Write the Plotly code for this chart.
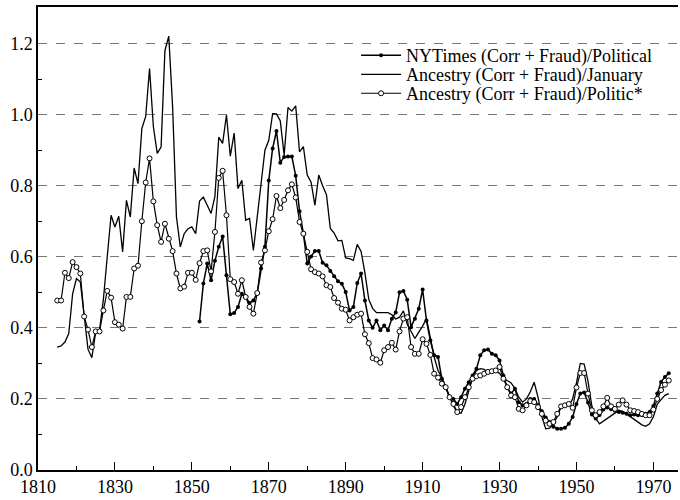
import plotly.graph_objects as go

# ---------------- data ----------------
nyt_years = list(range(1852, 1975))
nyt_vals = [
    0.418, 0.525, 0.581, 0.534, 0.589, 0.628, 0.657, 0.548, 0.438, 0.442,  # 1852-1861
    0.459, 0.496, 0.487, 0.470, 0.477, 0.498, 0.567, 0.628, 0.815, 0.905,  # 1862-1871
    0.954, 0.865, 0.881, 0.882, 0.882, 0.828, 0.728, 0.665, 0.581, 0.601,  # 1872-1881
    0.616, 0.616, 0.583, 0.576, 0.560, 0.545, 0.531, 0.524, 0.501, 0.449,  # 1882-1891
    0.459, 0.526, 0.553, 0.477, 0.421, 0.400, 0.421, 0.393, 0.407, 0.393,  # 1892-1901
    0.426, 0.443, 0.500, 0.504, 0.479, 0.402, 0.426, 0.454, 0.508, 0.421,  # 1902-1911
    0.365, 0.323, 0.318, 0.257, 0.233, 0.205, 0.200, 0.186, 0.205, 0.229,  # 1912-1921
    0.247, 0.266, 0.285, 0.323, 0.337, 0.339, 0.327, 0.323, 0.308, 0.266,  # 1922-1931
    0.233, 0.215, 0.229, 0.191, 0.182, 0.186, 0.200, 0.200, 0.182, 0.165,  # 1932-1941
    0.148, 0.135, 0.122, 0.116, 0.116, 0.119, 0.130, 0.149, 0.186, 0.215,  # 1942-1951
    0.218, 0.190, 0.156, 0.145, 0.155, 0.170, 0.176, 0.171, 0.167, 0.163,  # 1952-1961
    0.161, 0.158, 0.154, 0.156, 0.154, 0.155, 0.158, 0.163, 0.180, 0.215,  # 1962-1971
    0.248, 0.262, 0.272,                                                   # 1972-1974
]

jan_years = list(range(1815, 1975))
jan_vals = [
    0.346, 0.349, 0.360, 0.384, 0.496, 0.539, 0.529, 0.430, 0.340, 0.316,  # 1815-1824
    0.388, 0.393, 0.480, 0.600, 0.717, 0.684, 0.714, 0.614, 0.759, 0.712,  # 1825-1834
    0.850, 0.806, 0.961, 0.995, 1.130, 0.966, 0.891, 0.909, 1.180, 1.221,  # 1835-1844
    1.022, 0.712, 0.628, 0.665, 0.679, 0.684, 0.665, 0.757, 0.768, 0.745,  # 1845-1854
    0.722, 0.770, 0.937, 0.919, 0.999, 0.883, 0.948, 0.792, 0.815, 0.703,  # 1855-1864
    0.708, 0.618, 0.712, 0.820, 0.900, 0.928, 1.003, 1.002, 0.982, 0.886,  # 1865-1874
    1.020, 1.010, 1.025, 0.895, 0.910, 0.830, 0.810, 0.745, 0.830, 0.800,  # 1875-1884
    0.775, 0.680, 0.667, 0.645, 0.646, 0.597, 0.595, 0.590, 0.635, 0.615,  # 1885-1894
    0.555, 0.480, 0.455, 0.443, 0.443, 0.443, 0.443, 0.437, 0.425, 0.430,  # 1895-1904
    0.448, 0.410, 0.390, 0.370, 0.388, 0.405, 0.426, 0.370, 0.318, 0.280,  # 1905-1914
    0.260, 0.235, 0.205, 0.180, 0.162, 0.160, 0.185, 0.225, 0.260, 0.280,  # 1915-1924
    0.285, 0.283, 0.276, 0.276, 0.279, 0.272, 0.257, 0.252, 0.245, 0.230,  # 1925-1934
    0.205, 0.191, 0.200, 0.220, 0.247, 0.205, 0.150, 0.116, 0.118, 0.130,  # 1935-1944
    0.150, 0.177, 0.186, 0.180, 0.200, 0.245, 0.300, 0.298, 0.250, 0.180,  # 1945-1954
    0.145, 0.130, 0.137, 0.145, 0.152, 0.160, 0.168, 0.165, 0.158, 0.150,  # 1955-1964
    0.142, 0.135, 0.127, 0.123, 0.130, 0.150, 0.185, 0.198, 0.210, 0.215,  # 1965-1974
]

pol_years = list(range(1815, 1975))
pol_vals = [
    0.477, 0.477, 0.555, 0.540, 0.585, 0.571, 0.553, 0.432, 0.395, 0.346,  # 1815-1824
    0.390, 0.390, 0.449, 0.504, 0.485, 0.416, 0.409, 0.398, 0.487, 0.487,  # 1825-1834
    0.567, 0.575, 0.700, 0.809, 0.877, 0.756, 0.689, 0.642, 0.693, 0.651,  # 1835-1844
    0.616, 0.553, 0.511, 0.516, 0.555, 0.555, 0.535, 0.582, 0.616, 0.618,  # 1845-1854
    0.559, 0.670, 0.822, 0.842, 0.717, 0.537, 0.529, 0.496, 0.534, 0.487,  # 1855-1864
    0.459, 0.440, 0.498, 0.584, 0.618, 0.672, 0.706, 0.771, 0.737, 0.760,  # 1865-1874
    0.787, 0.804, 0.767, 0.698, 0.665, 0.614, 0.565, 0.557, 0.553, 0.545,  # 1875-1884
    0.520, 0.515, 0.484, 0.471, 0.454, 0.451, 0.421, 0.430, 0.437, 0.440,  # 1885-1894
    0.382, 0.357, 0.315, 0.311, 0.302, 0.337, 0.346, 0.358, 0.339, 0.390,  # 1895-1904
    0.426, 0.430, 0.346, 0.327, 0.327, 0.368, 0.355, 0.324, 0.271, 0.260,  # 1905-1914
    0.243, 0.233, 0.205, 0.186, 0.163, 0.177, 0.205, 0.233, 0.257, 0.264,  # 1915-1924
    0.266, 0.271, 0.276, 0.278, 0.280, 0.290, 0.257, 0.233, 0.210, 0.205,  # 1925-1934
    0.172, 0.168, 0.182, 0.194, 0.191, 0.177, 0.158, 0.139, 0.130, 0.135,  # 1935-1944
    0.158, 0.179, 0.182, 0.186, 0.175, 0.232, 0.273, 0.273, 0.215, 0.168,  # 1945-1954
    0.154, 0.163, 0.179, 0.203, 0.179, 0.172, 0.184, 0.196, 0.184, 0.168,  # 1955-1964
    0.166, 0.163, 0.158, 0.154, 0.154, 0.170, 0.200, 0.225, 0.240, 0.252,  # 1965-1974
]

series_names = [
    "NYTimes (Corr + Fraud)/Political",
    "Ancestry (Corr + Fraud)/January",
    "Ancestry (Corr + Fraud)/Politic*",
]
x_ticks = [1810, 1830, 1850, 1870, 1890, 1910, 1930, 1950, 1970]
x_minor = [1820, 1840, 1860, 1880, 1900, 1920, 1940, 1960]
y_ticks = [0.0, 0.2, 0.4, 0.6, 0.8, 1.0, 1.2]
y_minor = [0.1, 0.3, 0.5, 0.7, 0.9, 1.1]

FONT = "Liberation Serif"

fig = go.Figure()
fig.add_trace(go.Scatter(
    x=nyt_years, y=nyt_vals, name=series_names[0], mode="lines+markers",
    line=dict(color="black", width=1.5),
    marker=dict(symbol="circle", size=4, color="black"),
    legend="legend",
))
fig.add_trace(go.Scatter(
    x=jan_years, y=jan_vals, name=series_names[1], mode="lines",
    line=dict(color="black", width=1.3),
    legend="legend2",
))
fig.add_trace(go.Scatter(
    x=pol_years, y=pol_vals, name=series_names[2], mode="lines+markers",
    line=dict(color="black", width=1.2),
    marker=dict(symbol="circle", size=5, color="white",
                line=dict(color="black", width=1)),
    legend="legend3",
))

def leg(ypos):
    return dict(
        x=0.497, y=ypos, xanchor="left", yanchor="top",
        bgcolor="rgba(0,0,0,0)", borderwidth=0,
        font=dict(family=FONT, size=18, color="black"),
        itemwidth=40,
    )

fig.update_layout(
    width=680, height=500,
    margin=dict(l=38, r=2, t=7, b=30),
    paper_bgcolor="white", plot_bgcolor="white",
    font=dict(family=FONT, size=18, color="black"),
    showlegend=True,
    legend=leg(0.935),
    legend2=leg(0.894),
    legend3=leg(0.853),
    xaxis=dict(
        range=[1810, 1976.4], tickmode="array", tickvals=x_ticks,
        ticktext=[str(v) for v in x_ticks],
        ticks="inside", ticklen=8, tickcolor="black", tickwidth=1,
        minor=dict(ticks="inside", ticklen=4, tickcolor="black",
                   tickmode="array", tickvals=x_minor),
        showline=True, linecolor="black", linewidth=1.5, mirror=True,
        showgrid=False, zeroline=False, automargin=False,
        tickfont=dict(family=FONT, size=18),
    ),
    yaxis=dict(
        range=[0, 1.303], tickmode="array", tickvals=y_ticks,
        ticktext=[f"{v:.1f}" for v in y_ticks],
        ticks="",
        minor=dict(ticks="inside", ticklen=4, tickcolor="black",
                   tickmode="array", tickvals=y_minor),
        showline=True, linecolor="black", linewidth=1.5, mirror=False,
        showgrid=True, gridcolor="#777777", griddash="dash", gridwidth=1,
        zeroline=False, automargin=False,
        tickfont=dict(family=FONT, size=18),
    ),
)

fig.write_html(
    "out.html",
    config={"displayModeBar": False},
    post_script="document.body.style.margin='0';document.body.style.overflow='hidden';",
)
